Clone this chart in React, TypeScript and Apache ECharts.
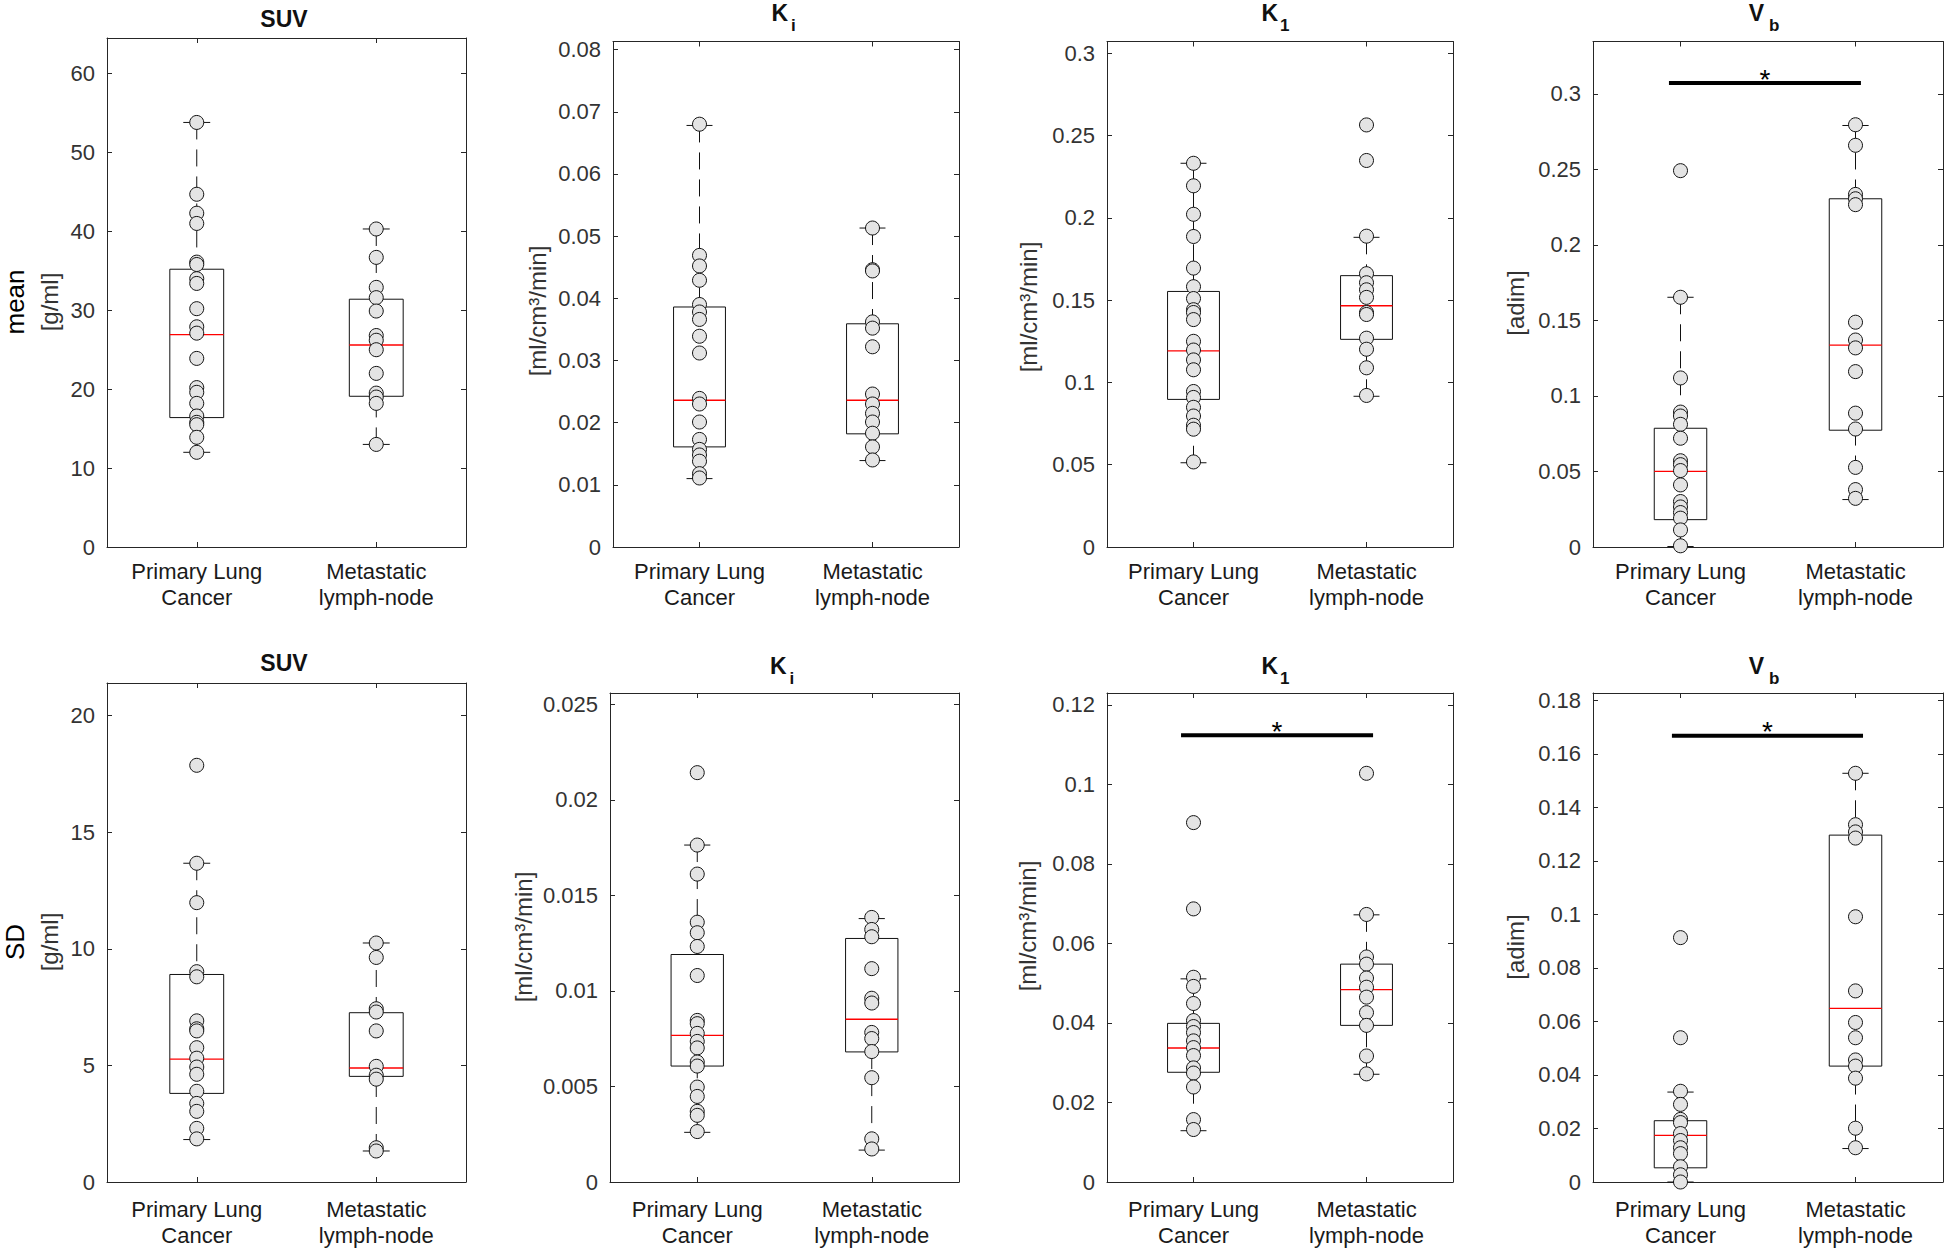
import React, { useEffect, useRef } from "react";
import * as echarts from "echarts";

const FONT = "'Liberation Sans', Arial, Helvetica, sans-serif";

// ---------- data ----------
const categories = ["Primary Lung\nCancer", "Metastatic\nlymph-node"];
const rowLabels = ["mean", "SD"];
const titleMain = ["SUV", "K", "K", "V", "SUV", "K", "K", "V"];
const titleSub = ["", "i", "1", "b", "", "i", "1", "b"];
const unitLabels = ["[g/ml]", "[ml/cm³/min]", "[ml/cm³/min]", "[adim]", "[g/ml]", "[ml/cm³/min]", "[ml/cm³/min]", "[adim]"];
const yMax = [64.5, 0.0813, 0.3072, 0.3346, 21.4, 0.0256, 0.123, 0.1827];
const yInterval = [10, 0.01, 0.05, 0.05, 5, 0.005, 0.02, 0.02];

// points: primary lung cancer
const suvMeanPrimary = [53.8, 44.7, 42.3, 41.0, 36.1, 35.8, 34.0, 33.4, 30.2, 27.9, 27.1, 23.9, 20.2, 19.6, 18.2, 16.6, 15.8, 15.5, 13.9, 12.0];
const kiMeanPrimary = [0.068, 0.0469, 0.0452, 0.0429, 0.039, 0.0378, 0.0366, 0.0339, 0.0312, 0.0239, 0.023, 0.0201, 0.0173, 0.0157, 0.0148, 0.0138, 0.0118, 0.0111];
const k1MeanPrimary = [0.2332, 0.2195, 0.2022, 0.1887, 0.1695, 0.1582, 0.151, 0.1442, 0.1425, 0.1382, 0.125, 0.1197, 0.1137, 0.1077, 0.0945, 0.0909, 0.0849, 0.0796, 0.074, 0.0716, 0.0517];
const vbMeanPrimary = [0.2491, 0.1653, 0.1119, 0.0893, 0.0867, 0.0812, 0.072, 0.0571, 0.0545, 0.0506, 0.0411, 0.0301, 0.0265, 0.0228, 0.0191, 0.0113, 0.0008];
const suvSdPrimary = [17.87, 13.67, 11.98, 9.02, 8.8, 6.91, 6.57, 6.48, 5.76, 5.31, 4.93, 4.62, 3.89, 3.37, 3.03, 2.3, 1.85];
const kiSdPrimary = [0.02143, 0.01764, 0.01612, 0.0136, 0.01305, 0.01233, 0.01081, 0.00846, 0.00829, 0.00778, 0.00736, 0.00702, 0.00628, 0.00607, 0.00497, 0.00448, 0.0037, 0.00349, 0.00264];
const k1SdPrimary = [0.0904, 0.0687, 0.0515, 0.0492, 0.0449, 0.0406, 0.0391, 0.0376, 0.0355, 0.0338, 0.0318, 0.0287, 0.0274, 0.0239, 0.0157, 0.0132];
const vbSdPrimary = [0.0913, 0.0539, 0.0339, 0.029, 0.0234, 0.0222, 0.0181, 0.0155, 0.0128, 0.0106, 0.0057, 0.0027, 0.0];

// points: metastatic lymph-node
const suvMeanMeta = [40.3, 36.7, 32.9, 31.6, 29.9, 26.8, 26.2, 25.0, 22.0, 19.5, 19.0, 18.2, 13.0];
const kiMeanMeta = [0.0513, 0.0446, 0.0444, 0.0362, 0.0352, 0.0322, 0.0246, 0.023, 0.0215, 0.0201, 0.0183, 0.0161, 0.014];
const k1MeanMeta = [0.2565, 0.2349, 0.1889, 0.1661, 0.1606, 0.1563, 0.1517, 0.1425, 0.1413, 0.1269, 0.1202, 0.1089, 0.0921];
const vbMeanMeta = [0.2795, 0.2659, 0.2334, 0.2305, 0.2266, 0.1488, 0.137, 0.1318, 0.1161, 0.0886, 0.0781, 0.0527, 0.038, 0.0322];
const suvSdMeta = [10.25, 9.63, 7.43, 7.29, 6.48, 4.96, 4.58, 4.41, 1.47, 1.33];
const kiSdMeta = [0.01385, 0.01322, 0.01284, 0.01117, 0.00962, 0.00937, 0.00783, 0.00751, 0.00683, 0.00546, 0.00226, 0.00173];
const k1SdMeta = [0.1028, 0.0673, 0.0566, 0.0548, 0.0513, 0.049, 0.0465, 0.0426, 0.0394, 0.0317, 0.0272];
const vbSdMeta = [0.1527, 0.1335, 0.1308, 0.1285, 0.0991, 0.0714, 0.0596, 0.0539, 0.0456, 0.0433, 0.0388, 0.0201, 0.0128];

// box stats [lower whisker, Q1, median, Q3, upper whisker]
const boxPrimary = [
  [12.0, 16.4, 26.9, 35.2, 53.8],
  [0.011, 0.0161, 0.0236, 0.0386, 0.0678],
  [0.0512, 0.0897, 0.1192, 0.1553, 0.2332],
  [0.0003, 0.0181, 0.05, 0.0786, 0.1653],
  [1.82, 3.8, 5.27, 8.9, 13.67],
  [0.0026, 0.00607, 0.00768, 0.01191, 0.01764],
  [0.0129, 0.0276, 0.0337, 0.0399, 0.0511],
  [0.0, 0.0053, 0.0174, 0.0229, 0.0336],
];
const boxMeta = [
  [13.0, 19.1, 25.6, 31.4, 40.3],
  [0.0139, 0.0182, 0.0236, 0.0359, 0.0513],
  [0.0916, 0.1262, 0.1466, 0.1649, 0.1882],
  [0.0314, 0.0773, 0.1336, 0.2305, 0.279],
  [1.33, 4.53, 4.89, 7.26, 10.25],
  [0.00167, 0.00681, 0.00852, 0.01275, 0.01379],
  [0.0271, 0.0394, 0.0484, 0.0548, 0.0672],
  [0.0125, 0.0433, 0.0649, 0.1296, 0.1527],
];

// significance bars: panel, from/to (x units, 1 = first group), y value
const sigPanels = [3, 6, 7];
const sigFrom = [0.934, 0.928, 0.951];
const sigTo = [2.031, 2.038, 2.043];
const sigY = [0.3071, 0.1124, 0.1667];

const primaryPoints = [suvMeanPrimary, kiMeanPrimary, k1MeanPrimary, vbMeanPrimary, suvSdPrimary, kiSdPrimary, k1SdPrimary, vbSdPrimary];
const metaPoints = [suvMeanMeta, kiMeanMeta, k1MeanMeta, vbMeanMeta, suvSdMeta, kiSdMeta, k1SdMeta, vbSdMeta];

// ---------- layout ----------
const gridLayout = [
  [107, 38, 359, 509],
  [613, 41.5, 346, 505.5],
  [1107, 41.5, 346, 505.5],
  [1593, 41.5, 350, 505.5],
  [107, 683, 359, 499],
  [610, 693, 349, 489],
  [1107, 693, 346, 489],
  [1593, 693, 350, 489],
];
const labelMargin = [11, 11, 11, 11, 14, 14, 14, 14];
const unitLabelPos = [[49, 302], [537, 311], [1028, 307], [1515, 303], [49, 942], [523, 937], [1027, 926], [1515, 947]];
const titleX = [284, 786, 1280, 1768, 284, 784.5, 1280, 1768];
const titleMainY = [18.5, 13, 13, 13, 663, 666, 666, 666];
const titleSubY = [0, 25.7, 25.7, 25.7, 0, 678.5, 678.5, 678.5];
const titleDxMain = [0, 2, -2, -4, 0, 2, -2, -4];
const titleDxSub = [0, 5, 0, 1, 0, 5, 0, 1];
const rowLabelPos = [[15, 302], [15, 942]];

const AX = "#262626";

function fmtTick(interval: number) {
  return (v: number) => {
    const r = Math.round(v / interval);
    if (Math.abs(v - r * interval) > interval * 1e-6) return "";
    return String(parseFloat((r * interval).toFixed(6)));
  };
}

function buildOption() {
  const grid: any[] = [];
  const xAxis: any[] = [];
  const yAxis: any[] = [];
  const series: any[] = [];
  const graphic: any[] = [];

  for (let p = 0; p < 8; p++) {
    const [l, t, w, h] = gridLayout[p];
    grid.push({ left: l, top: t, width: w, height: h, show: false, containLabel: false });
    const axLine = { show: true, onZero: false, lineStyle: { color: AX, width: 1 } };
    const tick = { show: true, inside: true, alignWithLabel: true, length: 5, lineStyle: { color: AX, width: 1 } };
    xAxis.push({
      type: "category", gridIndex: p, data: categories, position: "bottom", boundaryGap: true,
      axisLine: axLine, axisTick: tick,
      axisLabel: { fontSize: 22, lineHeight: 26, color: "#1a1a1a", margin: labelMargin[p], fontFamily: FONT, interval: 0 },
      splitLine: { show: false },
    });
    xAxis.push({
      type: "category", gridIndex: p, data: categories, position: "top", boundaryGap: true,
      axisLine: axLine, axisTick: tick, axisLabel: { show: false }, splitLine: { show: false },
    });
    const yTick = { show: true, inside: true, length: 5, lineStyle: { color: AX, width: 1 } };
    yAxis.push({
      type: "value", gridIndex: p, min: 0, max: yMax[p], interval: yInterval[p], position: "left",
      axisLine: axLine, axisTick: yTick,
      axisLabel: { fontSize: 22, color: "#333", margin: 12, fontFamily: FONT, formatter: fmtTick(yInterval[p]) },
      splitLine: { show: false },
    });
    yAxis.push({
      type: "value", gridIndex: p, min: 0, max: yMax[p], interval: yInterval[p], position: "right",
      axisLine: axLine, axisTick: yTick, axisLabel: { show: false }, splitLine: { show: false },
    });

    const xi = 2 * p;
    const yi = 2 * p;
    const stats = [boxPrimary[p], boxMeta[p]];

    series.push({
      type: "custom", xAxisIndex: xi, yAxisIndex: yi, z: 2, silent: true,
      data: [[0, stats[0][3]], [1, stats[1][3]]],
      encode: { x: 0, y: 1 },
      renderItem: (params: any, api: any) => {
        const ci = params.dataIndex;
        const s = stats[ci];
        const band = api.size([1, 0])[0];
        const half = band * 0.15;
        const cap = band * 0.075;
        const x = api.coord([ci, s[0]])[0];
        const yLow = api.coord([ci, s[0]])[1];
        const yQ1 = api.coord([ci, s[1]])[1];
        const yMed = api.coord([ci, s[2]])[1];
        const yQ3 = api.coord([ci, s[3]])[1];
        const yHigh = api.coord([ci, s[4]])[1];
        const solid = { stroke: "#111", lineWidth: 1, fill: "none" };
        const dashed = { stroke: "#111", lineWidth: 1, lineDash: [17, 10] };
        return {
          type: "group",
          children: [
            { type: "line", shape: { x1: x, y1: yHigh, x2: x, y2: yQ3 }, style: dashed },
            { type: "line", shape: { x1: x, y1: yLow, x2: x, y2: yQ1 }, style: dashed },
            { type: "line", shape: { x1: x - cap, y1: yHigh, x2: x + cap, y2: yHigh }, style: solid },
            { type: "line", shape: { x1: x - cap, y1: yLow, x2: x + cap, y2: yLow }, style: solid },
            { type: "rect", shape: { x: x - half, y: yQ3, width: 2 * half, height: yQ1 - yQ3 }, style: solid },
            { type: "line", shape: { x1: x - half, y1: yMed, x2: x + half, y2: yMed }, style: { stroke: "#ff0000", lineWidth: 1.3 } },
          ],
        };
      },
    });

    const pointStyle = { color: "#e4e4e4", borderColor: "#111", borderWidth: 1, opacity: 1 };
    series.push({
      type: "scatter", xAxisIndex: xi, yAxisIndex: yi, z: 3, silent: true,
      symbol: "circle", symbolSize: 14, itemStyle: pointStyle,
      data: primaryPoints[p].map((v) => [0, v]),
    });
    series.push({
      type: "scatter", xAxisIndex: xi, yAxisIndex: yi, z: 3, silent: true,
      symbol: "circle", symbolSize: 14, itemStyle: pointStyle,
      data: metaPoints[p].map((v) => [1, v]),
    });

    const si = sigPanels.indexOf(p);
    if (si >= 0) {
      series.push({
        type: "custom", xAxisIndex: xi, yAxisIndex: yi, z: 4, silent: true,
        data: [[0, sigY[si]]],
        encode: { x: 0, y: 1 },
        renderItem: (params: any, api: any) => {
          const p0 = api.coord([0, sigY[si]]);
          const p1 = api.coord([1, sigY[si]]);
          const band = p1[0] - p0[0];
          const xa = p0[0] + (sigFrom[si] - 1) * band;
          const xb = p0[0] + (sigTo[si] - 1) * band;
          return {
            type: "group",
            children: [
              { type: "line", shape: { x1: xa, y1: p0[1], x2: xb, y2: p0[1] }, style: { stroke: "#000", lineWidth: 4 } },
              {
                type: "text", x: (xa + xb) / 2, y: p0[1] - 4,
                style: { text: "*", fontSize: 28, fontFamily: FONT, fill: "#000", align: "center", verticalAlign: "middle" },
              },
            ],
          };
        },
      });
    }

    // unit label
    graphic.push({
      type: "text", x: unitLabelPos[p][0], y: unitLabelPos[p][1], rotation: Math.PI / 2, silent: true,
      style: { text: unitLabels[p], fontSize: 24, fontFamily: FONT, fill: "#333", align: "center", verticalAlign: "middle" },
    });
    // title
    if (titleSub[p]) {
      graphic.push({
        type: "text", x: titleX[p] + titleDxMain[p], y: titleMainY[p], silent: true,
        style: { text: titleMain[p], fontSize: 23, fontWeight: "bold", fontFamily: FONT, fill: "#111", align: "right", verticalAlign: "middle" },
      });
      graphic.push({
        type: "text", x: titleX[p] + titleDxSub[p], y: titleSubY[p], silent: true,
        style: { text: titleSub[p], fontSize: 17, fontWeight: "bold", fontFamily: FONT, fill: "#111", align: "left", verticalAlign: "middle" },
      });
    } else {
      graphic.push({
        type: "text", x: titleX[p], y: titleMainY[p], silent: true,
        style: { text: titleMain[p], fontSize: 23, fontWeight: "bold", fontFamily: FONT, fill: "#111", align: "center", verticalAlign: "middle" },
      });
    }
  }

  rowLabels.forEach((txt, r) => {
    graphic.push({
      type: "text", x: rowLabelPos[r][0], y: rowLabelPos[r][1], rotation: Math.PI / 2, silent: true,
      style: { text: txt, fontSize: 26, fontFamily: FONT, fill: "#000", align: "center", verticalAlign: "middle" },
    });
  });

  return {
    animation: false,
    backgroundColor: "#ffffff",
    textStyle: { fontFamily: FONT },
    grid, xAxis, yAxis, series, graphic,
  };
}

export default function App() {
  const ref = useRef<HTMLDivElement>(null);
  useEffect(() => {
    if (!ref.current) return;
    const chart = echarts.init(ref.current, undefined, { renderer: "svg" });
    chart.setOption(buildOption() as any);
    return () => chart.dispose();
  }, []);
  return (
    <div
      ref={ref}
      style={{ position: "fixed", left: 0, top: 0, width: 1946, height: 1252, background: "#fff" }}
    />
  );
}
